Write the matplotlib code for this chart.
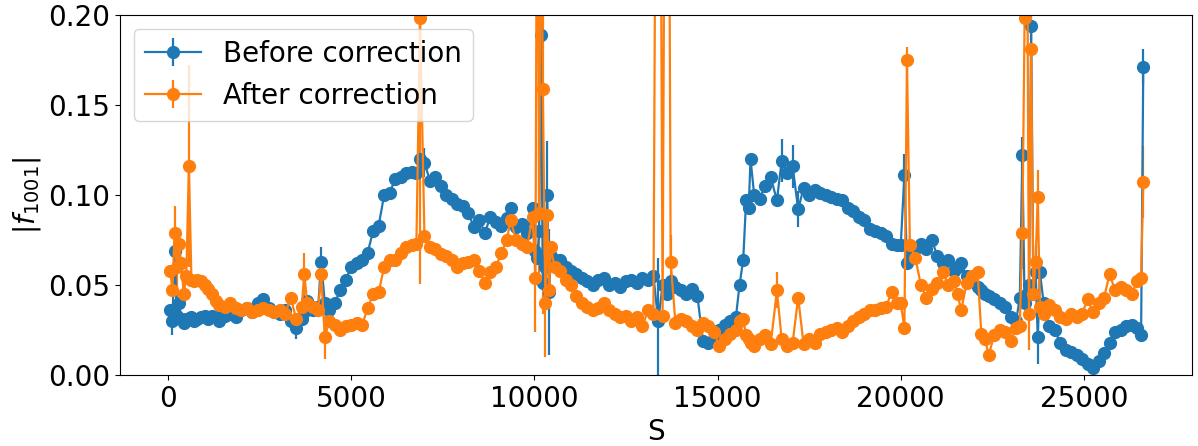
import numpy as np
import matplotlib
matplotlib.use("Agg")
import matplotlib.pyplot as plt

# BPM longitudinal positions [m]
s_pos = [60, 120, 180, 240, 300, 360, 430, 500, 570, 640, 720, 800, 900, 1000, 1100, 1200, 1300, 1400,
         1550, 1700, 1850, 2000, 2150, 2300, 2450, 2600, 2750, 2900, 3050, 3200, 3350, 3500, 3650, 3720, 3800, 3950, 4100, 4180, 4280, 4400,
         4550, 4700, 4850, 5000, 5150, 5300, 5450, 5600, 5750, 5900, 6050, 6200, 6350, 6500, 6650, 6780, 6880,
         7000, 7150, 7300, 7450, 7600, 7750, 7900, 8050, 8200, 8350, 8500, 8650, 8800, 8950, 9100, 9250, 9350, 9500, 9650, 9800, 9950,
         10030, 10080, 10130, 10180, 10230, 10300, 10350, 10400, 10450, 10550,
         10700, 10850, 11000, 11150, 11300, 11450, 11600, 11750, 11900, 12050, 12200, 12350, 12500, 12650, 12800, 12950, 13100, 13250,
         13380, 13500, 13620, 13720,
         13850, 14000, 14150, 14300, 14450, 14600, 14750, 14900, 15050, 15200,
         15350, 15500, 15600, 15700, 15780, 15850, 15900, 16000, 16150, 16300, 16450, 16620,
         16750, 16900, 17050, 17200, 17350, 17500, 17650, 17800, 17950, 18100, 18250, 18400, 18550, 18700, 18850, 19000, 19150, 19300, 19450, 19600, 19750, 19900,
         20000, 20100, 20170, 20250, 20400, 20550, 20700, 20850, 21000, 21150, 21300, 21450, 21550, 21650, 21800, 21950, 22100, 22200, 22300, 22400, 22550, 22700, 22850, 23000, 23150,
         23250, 23320, 23380, 23440, 23500, 23560, 23620, 23680, 23740, 23800, 23900,
         24050, 24200, 24350, 24500, 24650, 24800, 24950, 25100, 25250, 25400, 25550, 25700, 25850, 26000, 26150, 26300, 26450, 26560, 26620]

f_before = [0.036, 0.030, 0.069, 0.033, 0.040, 0.031, 0.029, 0.031, 0.031, 0.032, 0.030, 0.031, 0.032, 0.033, 0.031, 0.033, 0.032, 0.030,
            0.033, 0.034, 0.032, 0.036, 0.037, 0.035, 0.040, 0.042, 0.037, 0.035, 0.034, 0.036, 0.030, 0.026, 0.031, 0.035, 0.041, 0.036, 0.038, 0.063, 0.040, 0.036,
            0.040, 0.047, 0.053, 0.060, 0.062, 0.064, 0.068, 0.080, 0.083, 0.100, 0.101, 0.109, 0.110, 0.112, 0.113, 0.112, 0.120,
            0.118, 0.108, 0.110, 0.105, 0.100, 0.098, 0.095, 0.094, 0.090, 0.082, 0.086, 0.079, 0.088, 0.085, 0.083, 0.087, 0.093, 0.082, 0.084, 0.079, 0.093,
            0.069, 0.065, 0.080, 0.189, 0.051, 0.060, 0.100, 0.046, 0.066, 0.064,
            0.064, 0.060, 0.058, 0.056, 0.054, 0.052, 0.050, 0.053, 0.054, 0.050, 0.051, 0.049, 0.052, 0.053, 0.051, 0.054, 0.053, 0.055,
            0.030, 0.050, 0.045, 0.052,
            0.049, 0.047, 0.045, 0.048, 0.044, 0.019, 0.018, 0.020, 0.025, 0.028,
            0.030, 0.032, 0.050, 0.064, 0.097, 0.093, 0.120, 0.100, 0.098, 0.105, 0.110, 0.097,
            0.119, 0.112, 0.116, 0.092, 0.104, 0.100, 0.103, 0.101, 0.100, 0.099, 0.098, 0.097, 0.093, 0.091, 0.088, 0.086, 0.081, 0.080, 0.079, 0.077, 0.073, 0.072,
            0.072, 0.111, 0.062, 0.068, 0.070, 0.073, 0.070, 0.075, 0.066, 0.062, 0.064, 0.058, 0.060, 0.062, 0.055, 0.052, 0.049, 0.047, 0.045, 0.044, 0.042, 0.040, 0.038, 0.032, 0.030,
            0.043, 0.122, 0.040, 0.045, 0.050, 0.194, 0.045, 0.057, 0.021, 0.057, 0.040,
            0.027, 0.025, 0.018, 0.014, 0.013, 0.011, 0.009, 0.006, 0.004, 0.008, 0.012, 0.018, 0.024, 0.025, 0.027, 0.028, 0.026, 0.022, 0.171]

f_after = [0.058, 0.047, 0.079, 0.060, 0.073, 0.062, 0.045, 0.055, 0.116, 0.053, 0.052, 0.053, 0.052, 0.050, 0.048, 0.045, 0.041, 0.039,
           0.038, 0.040, 0.037, 0.036, 0.037, 0.035, 0.036, 0.037, 0.036, 0.035, 0.036, 0.034, 0.043, 0.031, 0.038, 0.056, 0.040, 0.038, 0.036, 0.056, 0.021, 0.030,
           0.028, 0.025, 0.027, 0.028, 0.029, 0.028, 0.037, 0.045, 0.046, 0.060, 0.064, 0.064, 0.068, 0.071, 0.072, 0.073, 0.1985,
           0.077, 0.071, 0.070, 0.067, 0.066, 0.064, 0.060, 0.062, 0.063, 0.064, 0.058, 0.051, 0.057, 0.060, 0.068, 0.075, 0.086, 0.075, 0.073, 0.071, 0.088,
           0.054, 0.350, 0.090, 0.300, 0.159, 0.040, 0.089, 0.047, 0.071, 0.060,
           0.058, 0.053, 0.050, 0.044, 0.040, 0.038, 0.036, 0.037, 0.040, 0.036, 0.034, 0.032, 0.033, 0.030, 0.032, 0.027, 0.036, 0.034,
           0.600, 0.033, 0.600, 0.063,
           0.029, 0.031, 0.030, 0.027, 0.025, 0.029, 0.027, 0.024, 0.016, 0.020,
           0.023, 0.025, 0.030, 0.031, 0.022, 0.020, 0.018, 0.016, 0.020, 0.022, 0.017, 0.047,
           0.020, 0.016, 0.018, 0.043, 0.017, 0.020, 0.018, 0.023, 0.024, 0.025, 0.026, 0.024, 0.027, 0.030, 0.032, 0.034, 0.036, 0.036, 0.037, 0.038, 0.046, 0.040,
           0.040, 0.026, 0.175, 0.072, 0.065, 0.050, 0.043, 0.048, 0.051, 0.057, 0.050, 0.052, 0.045, 0.036, 0.051, 0.055, 0.057, 0.023, 0.020, 0.011, 0.022, 0.025, 0.024, 0.019, 0.026,
           0.027, 0.079, 0.1985, 0.300, 0.034, 0.181, 0.045, 0.063, 0.099, 0.038, 0.034,
           0.039, 0.036, 0.032, 0.031, 0.034, 0.032, 0.034, 0.042, 0.035, 0.040, 0.043, 0.056, 0.047, 0.049, 0.047, 0.045, 0.052, 0.054, 0.107]

# uncertainties: typical value plus larger ones at specific BPMs
err_base_before = 0.003
err_big_before = {120: 0.008, 180: 0.006, 3500: 0.006, 4180: 0.008, 6880: 0.010, 7000: 0.008,
                  10180: 0.012, 10350: 0.030, 10400: 0.035, 13380: 0.035, 16750: 0.012, 17050: 0.012,
                  17200: 0.010, 20100: 0.012, 23320: 0.010, 23560: 0.008, 23680: 0.015, 23740: 0.015,
                  26620: 0.010}
err_base_after = 0.003
err_big_after = {180: 0.015, 240: 0.020, 570: 0.056, 3720: 0.012, 4180: 0.010, 4280: 0.012,
                 6880: 0.148, 10030: 0.030, 10130: 0.040, 10230: 0.125, 10300: 0.030, 13380: 0.050,
                 13620: 0.050, 13720: 0.015, 16620: 0.010, 20170: 0.007, 23320: 0.020, 23500: 0.020,
                 23740: 0.015, 26620: 0.020}

series_labels = ["Before correction", "After correction"]

err_before = [err_big_before.get(s, err_base_before) for s in s_pos]
err_after = [err_big_after.get(s, err_base_after) for s in s_pos]

fig = plt.figure(figsize=(11.98, 4.46), dpi=100)
ax = fig.add_axes([120 / 1198, 1 - 375 / 446, (1192 - 120) / 1198, 360 / 446])

ax.errorbar(s_pos, f_before, yerr=err_before, fmt='-o', color='C0', ms=8.5, lw=1.6,
            label=series_labels[0])
ax.errorbar(s_pos, f_after, yerr=err_after, fmt='-o', color='C1', ms=8.5, lw=1.6,
            label=series_labels[1])

ax.set_xlim(-1310, 27950)
ax.set_ylim(0, 0.2)
ax.set_xticks([0, 5000, 10000, 15000, 20000, 25000])
ax.set_yticks([0.0, 0.05, 0.10, 0.15, 0.20])
ax.set_yticklabels(["0.00", "0.05", "0.10", "0.15", "0.20"])
ax.tick_params(labelsize=20)
ax.set_xlabel("S", fontsize=20)
ax.set_ylabel(r"$|f_{1001}|$", fontsize=20)
ax.legend(loc='upper left', fontsize=20)

fig.savefig("out.png", dpi=100)
